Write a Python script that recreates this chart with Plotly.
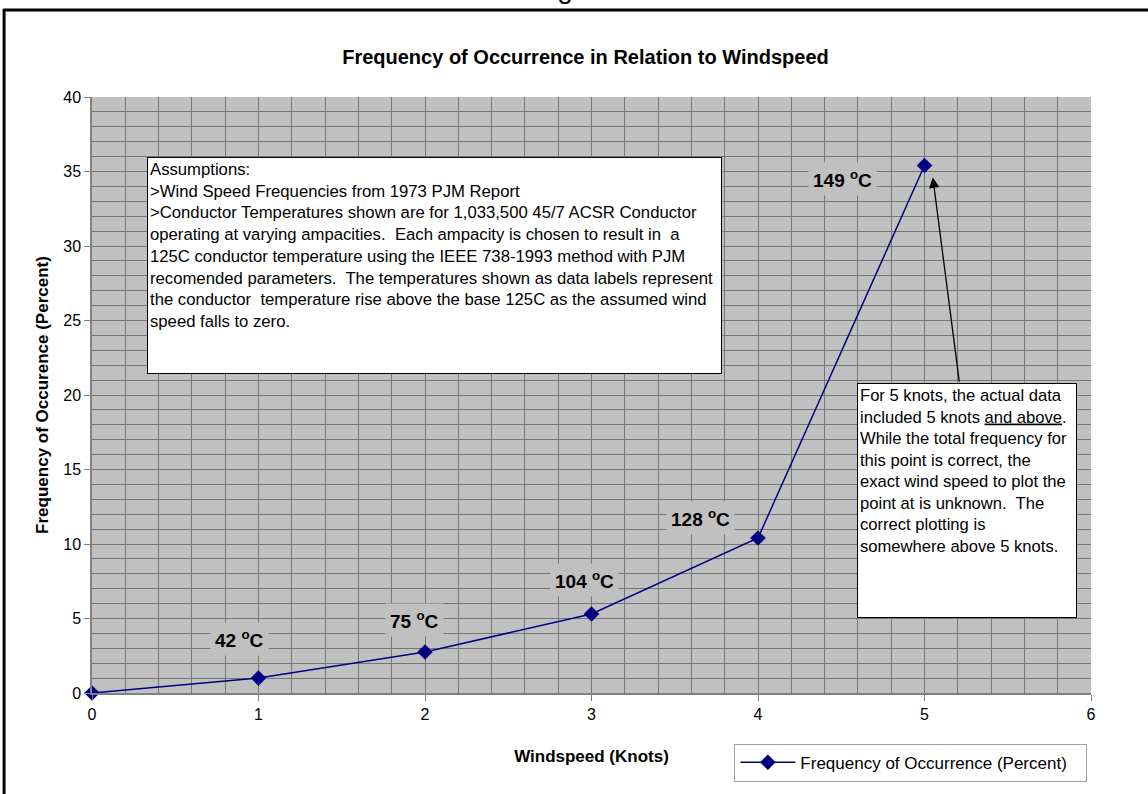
import plotly.graph_objects as go

windspeed = [0, 1, 2, 3, 4, 5]
frequency = [0.0, 1.0, 2.75, 5.3, 10.4, 35.4]
temp_labels = ["", "42 <sup>o</sup>C", "75 <sup>o</sup>C", "104 <sup>o</sup>C", "128 <sup>o</sup>C", "149 <sup>o</sup>C"]
label_shift_x = [0, -19, -11, -7, -58, -82]
label_shift_y = [0, 39, 32, 34, 20, -13]

FONT = "Arial, Liberation Sans, sans-serif"
NAVY = "#000080"

fig = go.Figure()
fig.add_trace(go.Scatter(
    x=windspeed, y=frequency, mode="lines+markers",
    name="Frequency of Occurrence (Percent)",
    line=dict(color=NAVY, width=1.5),
    marker=dict(symbol="diamond", size=12, color=NAVY),
    cliponaxis=False,
))

annotations = []
for xv, yv, t, sx, sy in zip(windspeed, frequency, temp_labels, label_shift_x, label_shift_y):
    if not t:
        continue
    annotations.append(dict(
        x=xv, y=yv, xref="x", yref="y", text="<b>" + t + "</b>", showarrow=False,
        xshift=sx, yshift=sy, bgcolor="#c0c0c0", borderpad=4,
        font=dict(family=FONT, size=19, color="black"),
    ))

assumptions = ("Assumptions:<br>"
               ">Wind Speed Frequencies from 1973 PJM Report<br>"
               ">Conductor Temperatures shown are for 1,033,500 45/7 ACSR Conductor<br>"
               "operating at varying ampacities.  Each ampacity is chosen to result in  a<br>"
               "125C conductor temperature using the IEEE 738-1993 method with PJM<br>"
               "recomended parameters.  The temperatures shown as data labels represent<br>"
               "the conductor  temperature rise above the base 125C as the assumed wind<br>"
               "speed falls to zero.")
annotations.append(dict(
    x=0.33, y=36.0, xref="x", yref="y", xanchor="left", yanchor="top",
    text=assumptions, showarrow=False, align="left", bgcolor="white",
    bordercolor="black", borderwidth=1, borderpad=2, width=569, height=211,
    valign="top", font=dict(family=FONT, size=16.7, color="black"),
))

note = ("For 5 knots, the actual data<br>"
        "included 5 knots <span style='text-decoration:underline'>and above</span>.<br>"
        "While the total frequency for<br>"
        "this point is correct, the<br>"
        "exact wind speed to plot the<br>"
        "point at is unknown.  The<br>"
        "correct plotting is<br>"
        "somewhere above 5 knots.")
annotations.append(dict(
    x=4.595, y=20.8, xref="x", yref="y", xanchor="left", yanchor="top",
    text=note, showarrow=False, align="left", bgcolor="white",
    bordercolor="black", borderwidth=1, borderpad=2, width=214, height=229,
    valign="top", font=dict(family=FONT, size=16.6, color="black"),
))

# arrow from note box to the 5-knot point
annotations.append(dict(
    x=5.05, y=34.6, xref="x", yref="y", ax=5.21, ay=20.8, axref="x", ayref="y",
    text="", showarrow=True, arrowhead=2, arrowsize=1.6, arrowwidth=1.3, arrowcolor="black",
))

# cut-off heading fragment at the very top of the page
annotations.append(dict(
    x=0.4815, y=1.0, xref="paper", yref="paper", text="Figure", showarrow=False,
    yshift=91, font=dict(family=FONT, size=28, color="black"), xanchor="center", yanchor="bottom",
))

fig.update_layout(
    width=1148, height=794,
    margin=dict(l=92, r=57, t=97, b=101),
    paper_bgcolor="white", plot_bgcolor="#c0c0c0",
    title=dict(text="<b>Frequency of Occurrence in Relation to Windspeed</b>",
               x=0.51, xanchor="center", y=0.928, yanchor="middle",
               font=dict(family=FONT, size=20, color="black")),
    font=dict(family=FONT, size=16, color="black"),
    showlegend=True,
    legend=dict(x=0.643, y=-0.085, xanchor="left", yanchor="top", orientation="h",
                bgcolor="white", bordercolor="#a0a0a0", borderwidth=1,
                itemwidth=55, entrywidth=281,
                font=dict(family=FONT, size=17, color="black")),
    annotations=annotations,
    shapes=[
        dict(type="line", xref="paper", yref="paper", x0=-0.088, x1=1.1, y0=1.146, y1=1.146,
             line=dict(color="black", width=3)),
        dict(type="line", xref="paper", yref="paper", x0=-0.088, x1=-0.088, y0=1.148, y1=-0.2,
             line=dict(color="black", width=3)),
    ],
)

fig.update_xaxes(
    range=[0, 6], dtick=1, tick0=0, showgrid=True, gridcolor="#767676", gridwidth=1,
    minor=dict(dtick=0.2, showgrid=True, gridcolor="#767676", gridwidth=1),
    ticks="outside", ticklen=6, tickcolor="#808080", showline=True, linecolor="#808080",
    linewidth=1.5, zeroline=False, mirror=False,
    title=dict(text="<b>Windspeed (Knots)</b>", font=dict(family=FONT, size=17), standoff=28),
    tickfont=dict(family=FONT, size=16),
)
fig.update_yaxes(
    range=[0, 40], dtick=5, tick0=0, showgrid=True, gridcolor="#767676", gridwidth=1,
    minor=dict(dtick=1, showgrid=True, gridcolor="#767676", gridwidth=1),
    ticks="outside", ticklen=6, tickcolor="#808080", showline=True, linecolor="#808080",
    linewidth=1.5, zeroline=False,
    title=dict(text="<b>Frequency of Occurence (Percent)</b>", font=dict(family=FONT, size=17), standoff=10),
    tickfont=dict(family=FONT, size=16),
)

fig.write_html("out.html", config={"displayModeBar": False},
               post_script="document.body.style.margin='0px';")
